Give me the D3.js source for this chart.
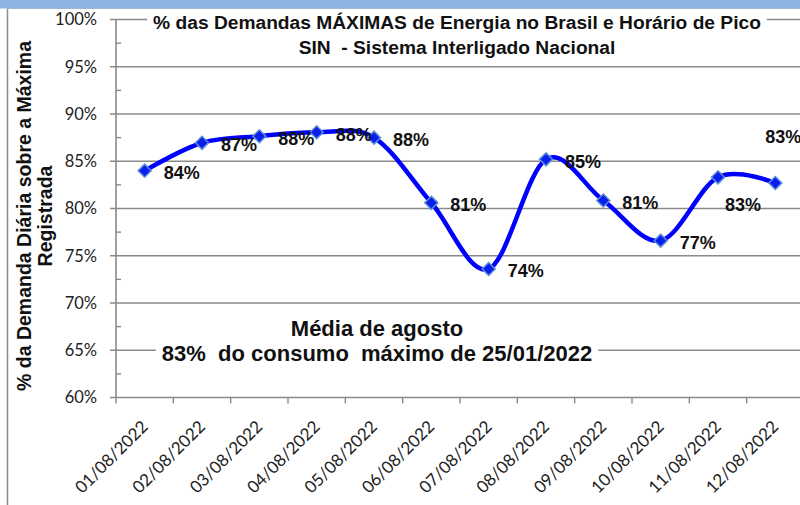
<!DOCTYPE html>
<html>
<head>
<meta charset="utf-8">
<script src="https://cdn.jsdelivr.net/npm/d3@7"></script>
<style>
  body { margin: 0; background: #fff; }
  svg { display: block; }
</style>
</head>
<body>
<div id="vis"></div>
<script>
var width = 800,
    height = 505;

// chart data
var dates = ["01/08/2022", "02/08/2022", "03/08/2022", "04/08/2022", "05/08/2022", "06/08/2022",
             "07/08/2022", "08/08/2022", "09/08/2022", "10/08/2022", "11/08/2022", "12/08/2022"];
var values = [84.0, 86.95, 87.65, 88.07, 87.5, 80.6, 73.6, 85.2, 80.85, 76.6, 83.3, 82.7];
var yTicks = [60, 65, 70, 75, 80, 85, 90, 95, 100];
var minorTicks = [62.5, 67.5, 72.5, 77.5, 82.5, 87.5, 92.5, 97.5];
var titleLines = ["% das Demandas MÁXIMAS de Energia no Brasil e Horário de Pico",
                  "SIN  - Sistema Interligado Nacional"];
var yTitleLines = ["% da Demanda Diária sobre a Máxima", "Registrada"];
var noteLines = ["Média de agosto", "83%  do consumo  máximo de 25/01/2022"];

var svg = d3.select("#vis").append("svg")
    .attr("width", width)
    .attr("height", height);

// frame: blue strip on top, white panel with gray left border
svg.append("rect").attr("x", 0).attr("y", 0).attr("width", width).attr("height", height).attr("fill", "#fff");
svg.append("rect").attr("x", 0).attr("y", 0).attr("width", width).attr("height", 8.5).attr("fill", "#8db4e2");
svg.append("line")
    .attr("x1", 7.5).attr("x2", 7.5).attr("y1", 8.5).attr("y2", height)
    .attr("stroke", "#8a8a8a").attr("stroke-width", 1.5);
svg.append("line")
    .attr("x1", 7.5).attr("x2", width).attr("y1", 8.5).attr("y2", 8.5)
    .attr("stroke", "#9fb6d6").attr("stroke-width", 1);

var x = d3.scaleBand().domain(dates).range([116, 804]);
var y = d3.scaleLinear().domain([60, 100]).range([397.5, 19.5]);

var gridColor = "#8a8a8a";

//--------GRID--------//
svg.append("g").selectAll("line")
    .data(yTicks)
    .enter().append("line")
    .attr("x1", 110).attr("x2", width)
    .attr("y1", function(d) { return y(d); })
    .attr("y2", function(d) { return y(d); })
    .attr("stroke", gridColor)
    .attr("stroke-width", 1.6);

svg.append("g").selectAll("line")
    .data(minorTicks)
    .enter().append("line")
    .attr("x1", 116).attr("x2", 121)
    .attr("y1", function(d) { return y(d); })
    .attr("y2", function(d) { return y(d); })
    .attr("stroke", gridColor)
    .attr("stroke-width", 1.4);

// y axis line
svg.append("line")
    .attr("x1", 116).attr("x2", 116)
    .attr("y1", y(100)).attr("y2", y(60))
    .attr("stroke", gridColor).attr("stroke-width", 1.6);

// y tick labels
var yAxis = svg.append("g")
    .attr("transform", "translate(116,0)")
    .call(d3.axisLeft(y).tickValues(yTicks).tickSize(0).tickPadding(19)
        .tickFormat(function(d) { return d + "%"; }));
yAxis.select(".domain").remove();
yAxis.selectAll("text")
    .style("font-family", "Lato, 'Liberation Sans', sans-serif")
    .style("font-size", "16.5px")
    .attr("fill", "#222");

// x ticks on category boundaries
svg.append("g").selectAll("line")
    .data(dates)
    .enter().append("line")
    .attr("x1", function(d) { return x(d); })
    .attr("x2", function(d) { return x(d); })
    .attr("y1", y(60)).attr("y2", y(60) + 6)
    .attr("stroke", gridColor).attr("stroke-width", 1.4);

// x labels rotated -45
svg.append("g").selectAll("text")
    .data(dates)
    .enter().append("text")
    .attr("transform", function(d) {
        return "translate(" + (x(d) + x.bandwidth() / 2) + "," + (y(60) + 26) + ") rotate(-45)";
    })
    .attr("text-anchor", "end")
    .attr("dy", "0.35em")
    .style("font-family", "Lato, 'Liberation Sans', sans-serif")
    .style("font-size", "17px")
    .attr("fill", "#222")
    .text(function(d) { return d; });

//--------TITLE--------//
var title = svg.append("g");
var titleBg = title.append("rect").attr("fill", "#fff");
title.selectAll("text")
    .data(titleLines)
    .enter().append("text")
    .attr("x", 457)
    .attr("y", function(d, i) { return 22 + i * 25; })
    .attr("dy", "0.35em")
    .attr("text-anchor", "middle")
    .style("font-family", "'Liberation Sans', Arial, sans-serif")
    .style("font-weight", "bold")
    .style("font-size", "19.2px")
    .style("white-space", "pre")
    .attr("fill", "#111")
    .text(function(d) { return d; });
var tb = title.node().getBBox();
titleBg.attr("x", tb.x - 6).attr("y", tb.y).attr("width", tb.width + 12).attr("height", tb.height);

//--------NOTE--------//
var note = svg.append("g");
var noteBg = note.append("rect").attr("fill", "#fff");
note.selectAll("text")
    .data(noteLines)
    .enter().append("text")
    .attr("x", 377)
    .attr("y", function(d, i) { return 328 + i * 25; })
    .attr("dy", "0.35em")
    .attr("text-anchor", "middle")
    .style("font-family", "'Liberation Sans', Arial, sans-serif")
    .style("font-weight", "bold")
    .style("font-size", "22px")
    .style("white-space", "pre")
    .attr("fill", "#111")
    .text(function(d) { return d; });
var nb = note.node().getBBox();
noteBg.attr("x", nb.x - 6).attr("y", nb.y).attr("width", nb.width + 12).attr("height", nb.height);

//--------Y TITLE--------//
svg.append("g").selectAll("text")
    .data(yTitleLines)
    .enter().append("text")
    .attr("transform", function(d, i) { return "translate(" + (24 + i * 21) + ",216) rotate(-90)"; })
    .attr("dy", "0.35em")
    .attr("text-anchor", "middle")
    .style("font-family", "'Liberation Sans', Arial, sans-serif")
    .style("font-weight", "bold")
    .style("font-size", "19.5px")
    .attr("fill", "#111")
    .text(function(d) { return d; });

//--------LINE--------//
var cx = function(d, i) { return x(dates[i]) + x.bandwidth() / 2; };
var line = d3.line()
    .x(cx)
    .y(function(d) { return y(d); })
    .curve(d3.curveCardinal.tension(0));

svg.append("path")
    .datum(values)
    .attr("d", line)
    .attr("fill", "none")
    .attr("stroke", "#0000ff")
    .attr("stroke-width", 4.5);

svg.append("g").selectAll("path")
    .data(values)
    .enter().append("path")
    .attr("d", d3.symbol(d3.symbolSquare, 85))
    .attr("transform", function(d, i) { return "translate(" + cx(d, i) + "," + y(d) + ") rotate(45)"; })
    .attr("fill", "#0a1ef0")
    .attr("stroke", "#5b8fd6")
    .attr("stroke-width", 1.5);

// value labels, mostly to the right of the marker
var labelOffset = function(i) {
    if (i === values.length - 1) return [8, -46];
    if (i === values.length - 2) return [25, 27];
    return [37, 2];
};
svg.append("g").selectAll("text")
    .data(values)
    .enter().append("text")
    .attr("x", function(d, i) { return cx(d, i) + labelOffset(i)[0]; })
    .attr("y", function(d, i) { return y(d) + labelOffset(i)[1]; })
    .attr("dy", "0.35em")
    .attr("text-anchor", "middle")
    .style("font-family", "'Liberation Sans', Arial, sans-serif")
    .style("font-weight", "bold")
    .style("font-size", "18px")
    .attr("fill", "#111")
    .text(function(d) { return Math.round(d) + "%"; });
</script>
</body>
</html>
